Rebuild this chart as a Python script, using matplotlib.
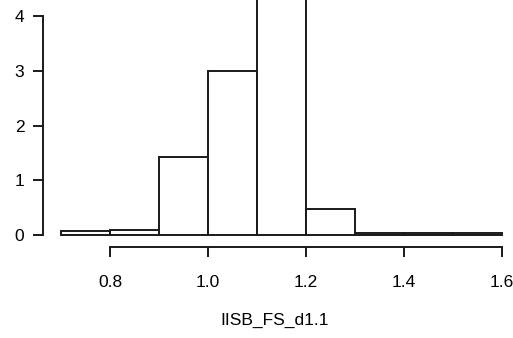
import matplotlib
matplotlib.use("Agg")
import matplotlib.pyplot as plt
import numpy as np

plt.rcParams['font.family'] = ['Liberation Sans', 'DejaVu Sans']

# histogram (density) data
bin_edges = [0.7, 0.8, 0.9, 1.0, 1.1, 1.2, 1.3, 1.4, 1.5, 1.6]
densities = [0.07, 0.10, 1.42, 3.00, 4.85, 0.48, 0.03, 0.03, 0.03]
x_ticks = [0.8, 1.0, 1.2, 1.4, 1.6]
x_tick_labels = ["0.8", "1.0", "1.2", "1.4", "1.6"]
y_ticks = [0, 1, 2, 3, 4]
y_tick_labels = ["0", "1", "2", "3", "4"]
x_label = "IISB_FS_d1.1"

W, H = 513, 338
fig = plt.figure(figsize=(W / 100, H / 100), dpi=100)
ax = fig.add_axes([0, 0, 1, 1])

# pixel mapping: x=0.8 -> 110px, 0.1 per 49px; y=0 -> 235px, 54.7px per unit
px_per_x = 490.0
px_per_y = 54.7
x0 = 0.8 - 110 / px_per_x
x1 = 0.8 + (W - 110) / px_per_x
y1 = 235 / px_per_y
y0 = (235 - H) / px_per_y
ax.set_xlim(x0, x1)
ax.set_ylim(y0, y1)

lefts = np.array(bin_edges[:-1])
widths = np.diff(bin_edges)
ax.bar(lefts, densities, width=widths, align='edge', facecolor='white',
       edgecolor='#1a1a1a', linewidth=1.4, zorder=2)

# R-style axes
for s in ['top', 'right']:
    ax.spines[s].set_visible(False)
ax.spines['left'].set_position(('data', x0 + 43 / px_per_x))
ax.spines['left'].set_bounds(0, 4)
ax.spines['bottom'].set_position(('data', -12 / px_per_y))
ax.spines['bottom'].set_bounds(0.8, 1.6)
for s in ['left', 'bottom']:
    ax.spines[s].set_linewidth(1.4)
    ax.spines[s].set_color('#1a1a1a')

ax.set_xticks(x_ticks)
ax.set_xticklabels(x_tick_labels)
ax.set_yticks(y_ticks)
ax.set_yticklabels(y_tick_labels)
ax.tick_params(axis='x', direction='out', length=7.5, width=1.4, pad=12.5, labelsize=12.5,
               color='#1a1a1a')
ax.tick_params(axis='y', direction='out', length=7.5, width=1.4, pad=6, labelsize=12.5,
               color='#1a1a1a')

fig.text(275 / W, 1 - 320 / H, x_label, ha='center', va='center', fontsize=12.5)

fig.savefig("out.png", dpi=100)
